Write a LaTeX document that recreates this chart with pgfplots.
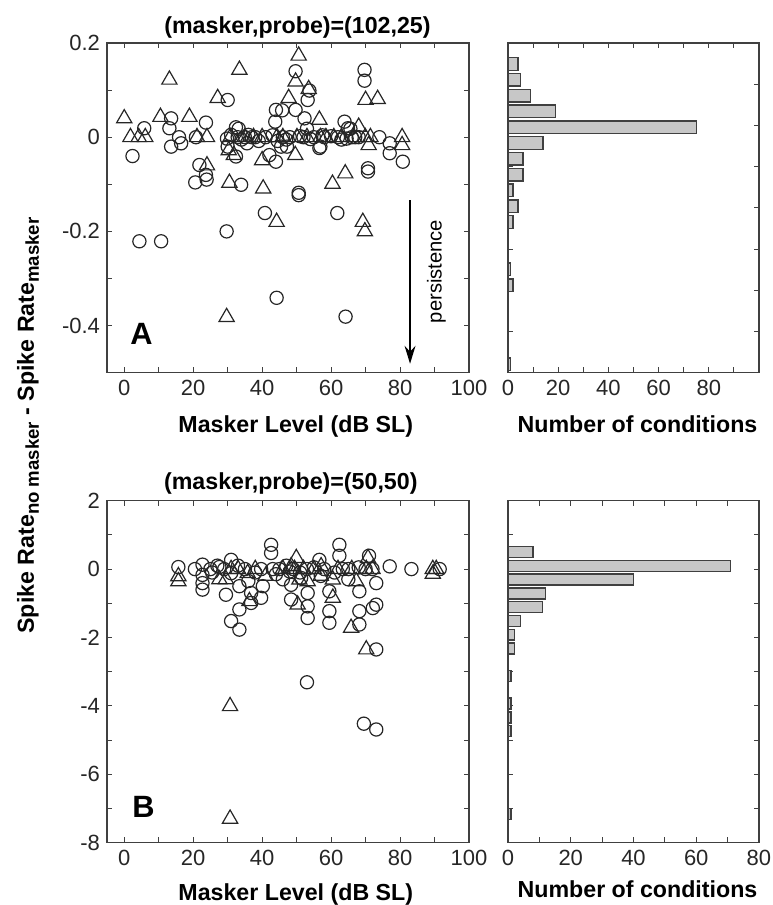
\documentclass[border=0pt]{standalone}
\usepackage{fontspec}
\setmainfont{Liberation Sans}
\usepackage{pgfplots}
\pgfplotsset{compat=1.18}
\usetikzlibrary{arrows.meta}

\pgfplotsset{
  panel/.style={
    scale only axis,
    anchor=south west,
    axis line style={black!75, line width=0.6pt},
    every tick/.style={black!75, line width=0.5pt},
    major tick length=2.6pt,
    minor tick length=2.6pt,
    tick align=inside,
    scaled x ticks=false,
    scaled y ticks=false,
    ticklabel style={font=\fontsize{11}{12}\selectfont, text=black!85},
  },
  circ/.style={only marks, mark=o, mark size=3.3pt, mark options={line width=0.6pt, draw=black!85}},
  tri/.style={only marks, mark=triangle, mark size=4.4pt, mark options={line width=0.6pt, draw=black!85}},
  histbar/.style={xbar, fill=black!22, draw=black!75, line width=0.7pt},
}

\begin{document}
\begin{tikzpicture}
\path[use as bounding box] (0,0) rectangle (386pt,452.5pt);

% ---------------- Panel A scatter ----------------
\begin{axis}[panel,
  at={(53.5pt,266.15pt)}, width=181pt, height=164.85pt,
  xmin=-5, xmax=100, ymin=-0.5, ymax=0.2,
  xtick={0,20,40,60,80,100}, xticklabels={0,20,40,60,80,100},
  minor xtick={10,30,50,70,90},
  ytick={-0.4,-0.2,0,0.2}, yticklabels={-0.4,-0.2,0,0.2},
  minor ytick={-0.5,-0.3,-0.1,0.1},
]
\addplot[circ] coordinates {
(2.4,-0.04) (5.8,0.019) (13.6,0.04) (13.1,0.019) (15.9,0) (13.6,-0.02) (16.5,-0.013)
(20.8,0) (23.7,0.031) (21.8,-0.059) (23.7,-0.08) (20.6,-0.096) (23.9,-0.09)
(30,0.079) (30,-0.02) (29.8,-0.003) (32.4,0.021) (33.2,0.018) (32.9,0) (32.4,-0.041)
(35.6,-0.013) (33.9,-0.101) (38,0) (36,0.005) (44,0.058) (43.8,0.033) (45.8,0.057)
(49.7,0.14) (49.7,0.058) (53.2,0.079) (52.3,0.04) (53,0.018) (53.7,0.099)
(45.5,-0.02) (47.2,-0.02) (44,-0.052) (42.1,-0.038) (50.6,-0.118) (50.6,-0.123)
(40.8,-0.161) (56.6,-0.023) (56.9,-0.02) (63.9,0.033) (64.9,0.019) (65.6,0.018)
(69.7,0.143) (69.7,0.12) (70.7,-0.066) (70.7,-0.073) (74,0) (77,-0.013) (77,-0.034)
(80.8,-0.052) (61.8,-0.161) (4.4,-0.221) (10.7,-0.221) (29.7,-0.2) (44.2,-0.341)
(64.2,-0.381)
(35,0) (37,0) (41,0) (46,0) (48,0) (52,0) (55,0) (58,0) (62,0) (66,0) (68,0)
(31,0.005) (34,-0.005) (39,-0.008) (43,0.004) (47,-0.005) (51,0.002) (54,-0.004)
(60,0.002) (63,-0.005) (67,0) (44.5,-0.008) (57.5,0.004) (64.5,-0.003)
};
\addplot[tri] coordinates {
(0,0.04) (1.8,0) (4.2,0) (6.1,0) (10.5,0.043) (13.1,0.122) (18.9,0.043)
(21.1,0) (24,0) (24,-0.06) (27.1,0.083) (30.8,0) (30.3,-0.028) (31.8,-0.038)
(30.5,-0.097) (33.4,0.143) (29.7,-0.382) (40,0) (40,-0.049) (40.3,-0.109)
(44.2,-0.18) (44.3,0) (47.7,0.083) (49.7,0.118) (50.6,0.173) (50.1,0) (49.6,-0.038)
(53.5,0.102) (56.6,0.037) (56.9,0) (60.8,0) (60.4,-0.099) (64.1,-0.077) (66.6,0)
(68,0.022) (69.9,0) (70,0.079) (73.5,0.081) (70.9,-0.017) (71.4,0) (69.2,-0.18)
(69.8,-0.2) (80.6,0) (80.6,-0.017) (35,0) (37.5,0) (46,0) (53,0) (58.5,0) (63,0)
};
\draw[black, line width=0.6pt, -{Stealth[length=9pt,width=5.5pt,inset=3pt]}]
  (axis cs:82.9,-0.134) -- (axis cs:82.9,-0.481);
\end{axis}

% ---------------- Panel A histogram ----------------
\begin{axis}[panel,
  at={(254pt,266.15pt)}, width=125.5pt, height=164.85pt,
  xmin=0, xmax=100, ymin=-0.5, ymax=0.2,
  xtick={0,20,40,60,80}, xticklabels={0,20,40,60,80},
  minor xtick={10,30,50,70,90},
  ytick={0.1125,0.025,-0.0625,-0.15,-0.2375,-0.325,-0.4125},
  yticklabels={,,,,,,},
]
\addplot[histbar, bar width=0.0268] coordinates {
(4,0.1555) (5,0.1220) (9,0.0884) (19,0.0549) (75,0.0213) (14,-0.0123)
(6,-0.0458) (6,-0.0794) (2,-0.1129) (4,-0.1465) (2,-0.1800)
(1,-0.2807) (2,-0.3142) (1,-0.4820)
};
\end{axis}

% ---------------- Panel B scatter ----------------
\begin{axis}[panel,
  at={(53.5pt,31.15pt)}, width=181pt, height=171pt,
  xmin=-5, xmax=100, ymin=-8, ymax=2,
  xtick={0,20,40,60,80,100}, xticklabels={0,20,40,60,80,100},
  minor xtick={10,30,50,70,90},
  ytick={-8,-6,-4,-2,0,2}, yticklabels={-8,-6,-4,-2,0,2},
  minor ytick={-7,-5,-3,-1,1},
]
\addplot[circ] coordinates {
(15.7,0.06) (22.7,0.13) (22.7,-0.17) (22.7,-0.41) (22.7,-0.6) (27.6,0.06)
(31,0.27) (31,-0.12) (29.5,-0.75) (31,-1.52) (33.4,-1.77) (33.4,-1.18) (33.4,-0.5)
(36.8,-0.7) (36.8,-0.99) (39.7,-0.84) (40.2,-0.5) (39.7,0) (42.6,0.71) (42.6,0.47)
(43.1,0) (48,-0.07) (48.4,-0.46) (48.4,-0.89) (51.3,-0.26) (53.2,-0.7) (53.2,-1.09)
(53.2,-1.43) (56.6,0.27) (59.5,-0.65) (59.5,-1.23) (59.5,-1.57) (62.4,0.71)
(62.4,0.39) (63.4,0) (68.2,-0.65) (68.2,-1.23) (68.2,-1.62) (71,0.39) (73.1,-0.41)
(73.1,-1.04) (72.1,-1.14) (73.1,-2.35) (77,0.08) (83.3,0) (91.5,0) (53,-3.31)
(69.5,-4.52) (73.1,-4.69)
(25,0) (27,0.1) (29,0) (33,0.1) (35,0) (38,-0.1) (45,0) (47,0.1) (49,0) (51,-0.1)
(53,0) (55,0.05) (58,0) (61,-0.1) (65,0) (68,0.05) (70,0) (72,0) (46,-0.3)
(57,-0.2) (65,-0.3) (20.5,0) (25.5,-0.1) (36,-0.35) (44,-0.15)
};
\addplot[tri] coordinates {
(15.7,-0.21) (15.7,-0.36) (27.6,-0.3) (29.5,-0.3) (31,0) (35.8,-0.12) (36.3,-0.94)
(49.9,0.32) (49.4,0) (50.8,-0.31) (50.3,-1.04) (53.2,-0.36) (57.1,0.08) (60.5,-0.31)
(60.5,-0.84) (65.8,-1.72) (70.7,0.32) (70.2,0) (67.3,-0.36) (70.2,-2.35) (89.5,0)
(90.5,0) (89.5,-0.14) (48.4,0.08) (30.7,-4.01) (30.7,-7.3)
(33,0) (38,0) (46,0) (52,0) (55,0) (62,0) (66,0) (72,0) (41,-0.2) (57,-0.2)
};
\end{axis}

% ---------------- Panel B histogram ----------------
\begin{axis}[panel,
  at={(254pt,31.15pt)}, width=125.5pt, height=171pt,
  xmin=0, xmax=80, ymin=-8, ymax=2,
  xtick={0,20,40,60,80}, xticklabels={0,20,40,60,80},
  minor xtick={10,30,50,70},
  ytick={-7,-6,-5,-4,-3,-2,-1,0,1}, yticklabels={,,,,,,,,},
]
\addplot[histbar, bar width=0.32] coordinates {
(8,0.50) (71,0.097) (40,-0.306) (12,-0.709) (11,-1.112) (4,-1.515) (2,-1.918)
(2,-2.321) (1,-3.127) (1,-3.933) (1,-4.336) (1,-4.739) (1,-7.157)
};
\end{axis}

% ---------------- Text ----------------
\node[anchor=base, font=\bfseries\fontsize{11.6}{13}\selectfont] at (148.75pt,435.85pt) {(masker,probe)=(102,25)};
\node[anchor=base, font=\bfseries\fontsize{11.6}{13}\selectfont] at (145.4pt,207.85pt) {(masker,probe)=(50,50)};
\node[anchor=base, font=\bfseries\fontsize{11.6}{13}\selectfont] at (147.9pt,236.35pt) {Masker Level (dB SL)};
\node[anchor=base, font=\bfseries\fontsize{11.6}{13}\selectfont] at (147.9pt,2.4pt) {Masker Level (dB SL)};
\node[anchor=base, font=\bfseries\fontsize{11.6}{13}\selectfont] at (318.75pt,236.35pt) {Number of conditions};
\node[anchor=base, font=\bfseries\fontsize{11.6}{13}\selectfont] at (318.75pt,3.5pt) {Number of conditions};
\node[anchor=base west, inner sep=0pt, font=\bfseries\fontsize{15.4}{17}\selectfont] at (65pt,280pt) {A};
\node[anchor=base west, inner sep=0pt, font=\bfseries\fontsize{15.4}{17}\selectfont] at (66pt,43.5pt) {B};
\node[rotate=90, font=\fontsize{10.1}{12}\selectfont] at (218.25pt,316.75pt) {persistence};
\node[rotate=90, font=\bfseries\fontsize{11.6}{13}\selectfont] at (14pt,239.75pt)
  {Spike Rate\raisebox{-2.5pt}{\fontsize{9.3}{10}\selectfont no masker} - Spike Rate\raisebox{-2.5pt}{\fontsize{9.3}{10}\selectfont masker}};
\end{tikzpicture}
\end{document}
